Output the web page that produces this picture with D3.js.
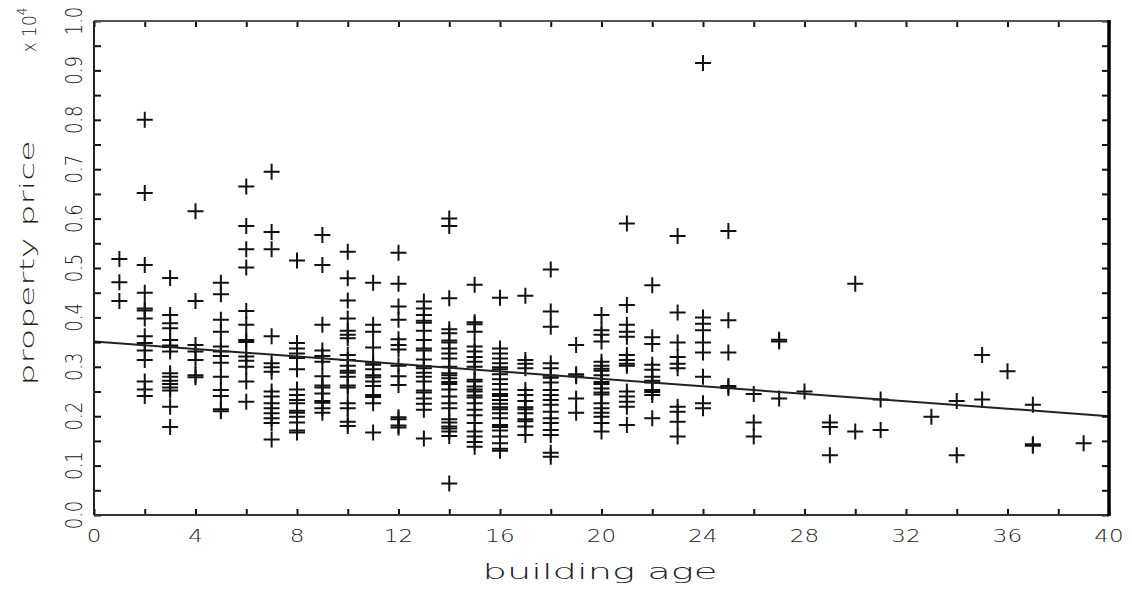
<!DOCTYPE html>
<html><head><meta charset="utf-8">
<script src="https://cdn.jsdelivr.net/npm/d3@7"></script>
<style>
html,body{margin:0;padding:0;background:#fff;}
svg{display:block;}
text{font-family:"DejaVu Sans ExtraLight","DejaVu Sans",sans-serif;font-weight:300;fill:#222;}
</style></head>
<body>
<svg id="chart" width="1132" height="592"></svg>
<script>
// ---- data (price in units of 10^4) ----
const ages = [1,2,3,4,5,6,7,8,9,10,11,12,13,14,15,16,17,18,19,20,21,22,23,24,25,26,27,28,29,30,31,33,34,35,36,37,39];
const prices = [
  [0.518,0.471,0.433],
  [0.80,0.652,0.506,0.450,0.418,0.414,0.398,0.362,0.348,0.333,0.314,0.270,0.254,0.241],
  [0.480,0.405,0.388,0.378,0.354,0.343,0.340,0.331,0.287,0.280,0.272,0.265,0.258,0.252,0.219,0.178],
  [0.615,0.433,0.344,0.331,0.314,0.283,0.279],
  [0.470,0.447,0.395,0.371,0.341,0.331,0.322,0.308,0.280,0.253,0.241,0.214,0.210],
  [0.665,0.585,0.538,0.501,0.413,0.385,0.354,0.350,0.321,0.312,0.300,0.270,0.229],
  [0.695,0.573,0.538,0.362,0.307,0.299,0.290,0.250,0.240,0.226,0.216,0.206,0.196,0.186,0.153],
  [0.515,0.348,0.337,0.327,0.318,0.295,0.254,0.243,0.233,0.226,0.211,0.207,0.199,0.187,0.171,0.167],
  [0.567,0.506,0.385,0.333,0.322,0.310,0.281,0.262,0.258,0.246,0.231,0.227,0.216,0.207],
  [0.533,0.479,0.434,0.398,0.373,0.365,0.358,0.324,0.314,0.302,0.292,0.288,0.280,0.262,0.258,0.226,0.216,0.189,0.180],
  [0.470,0.385,0.371,0.339,0.308,0.304,0.295,0.283,0.279,0.270,0.261,0.243,0.239,0.226,0.167],
  [0.531,0.468,0.422,0.395,0.356,0.344,0.335,0.302,0.281,0.263,0.198,0.194,0.181,0.177],
  [0.432,0.418,0.405,0.393,0.389,0.373,0.354,0.337,0.333,0.315,0.301,0.297,0.288,0.280,0.270,0.252,0.248,0.236,0.225,0.213,0.155],
  [0.600,0.585,0.439,0.376,0.368,0.353,0.349,0.337,0.327,0.317,0.300,0.287,0.283,0.277,0.269,0.265,0.254,0.240,0.226,0.216,0.194,0.187,0.179,0.175,0.169,0.160,0.064],
  [0.466,0.390,0.386,0.371,0.341,0.331,0.320,0.310,0.300,0.274,0.270,0.260,0.254,0.250,0.242,0.238,0.226,0.213,0.202,0.186,0.169,0.159,0.148,0.138],
  [0.440,0.337,0.327,0.317,0.307,0.299,0.295,0.285,0.275,0.265,0.254,0.245,0.241,0.233,0.225,0.218,0.214,0.206,0.196,0.182,0.178,0.171,0.159,0.145,0.134,0.130],
  [0.444,0.314,0.306,0.297,0.253,0.243,0.231,0.218,0.214,0.206,0.194,0.190,0.179,0.162],
  [0.497,0.412,0.381,0.307,0.297,0.282,0.278,0.268,0.253,0.243,0.233,0.223,0.209,0.196,0.186,0.172,0.162,0.126,0.118],
  [0.344,0.285,0.281,0.236,0.207],
  [0.405,0.374,0.365,0.351,0.310,0.302,0.296,0.292,0.283,0.269,0.265,0.256,0.248,0.244,0.226,0.216,0.207,0.199,0.186,0.169],
  [0.590,0.425,0.385,0.371,0.361,0.324,0.314,0.306,0.302,0.250,0.240,0.229,0.219,0.182],
  [0.465,0.360,0.346,0.304,0.294,0.280,0.272,0.268,0.253,0.249,0.243,0.196],
  [0.565,0.410,0.349,0.320,0.306,0.297,0.219,0.209,0.189,0.159],
  [0.915,0.400,0.387,0.374,0.349,0.329,0.280,0.226,0.216],
  [0.575,0.394,0.329,0.261,0.257],
  [0.245,0.187,0.159],
  [0.355,0.351,0.236],
  [0.250],
  [0.187,0.178,0.121],
  [0.468,0.169],
  [0.234,0.172],
  [0.199],
  [0.231,0.121],
  [0.324,0.234],
  [0.291],
  [0.223,0.143,0.140],
  [0.145]
];
const trendAge = [0, 40];
const trendPrice = [0.351, 0.200];
const xTickValues = [0,4,8,12,16,20,24,28,32,36,40];
const xMinorValues = [2,6,10,14,18,22,26,30,34,38];
const yTickValues = [0,0.1,0.2,0.3,0.4,0.5,0.6,0.7,0.8,0.9,1.0];
const yMinorValues = [0.05,0.15,0.25,0.35,0.45,0.55,0.65,0.75,0.85,0.95];
const xTitle = "building age";
const yTitle = "property price";

// ---- layout ----
const L = 94, R = 1109, T = 21, B = 515;
const x = d3.scaleLinear().domain([0,40]).range([L,R]);
const y = d3.scaleLinear().domain([0,1]).range([B,T]);
const svg = d3.select("#chart");
const SX = 1.28; // horizontal glyph stretch

// points
const pts = [];
ages.forEach((a,i)=>prices[i].forEach(p=>pts.push([a,p])));
svg.append("g").selectAll("path").data(pts).join("path")
  .attr("transform",d=>`translate(${x(d[0])},${y(d[1])})`)
  .attr("d","M-8,0H8M0,-8V8")
  .attr("stroke","#111").attr("stroke-width",2).attr("fill","none");

// trend line
svg.append("path")
  .attr("d", d3.line().x(d=>x(d[0])).y(d=>y(d[1]))(trendAge.map((a,i)=>[a,trendPrice[i]])))
  .attr("stroke","#222").attr("stroke-width",2).attr("fill","none");

// axes with inward ticks
const gB = svg.append("g").attr("transform",`translate(0,${B})`)
  .call(d3.axisBottom(x).tickValues(xTickValues.concat(xMinorValues)).tickSize(-6).tickFormat(""));
const gT = svg.append("g").attr("transform",`translate(0,${T})`)
  .call(d3.axisTop(x).tickValues(xTickValues.concat(xMinorValues)).tickSize(-6).tickFormat(""));
const gL = svg.append("g").attr("transform",`translate(${L},0)`)
  .call(d3.axisLeft(y).tickValues(yTickValues.concat(yMinorValues)).tickSize(-7).tickFormat(""));
const gR = svg.append("g").attr("transform",`translate(${R},0)`)
  .call(d3.axisRight(y).tickValues(yTickValues.concat(yMinorValues)).tickSize(-7).tickFormat(""));
[gB,gT,gL,gR].forEach(g=>{
  g.selectAll(".tick line").attr("stroke","#111").attr("stroke-width",2);
  g.select(".domain").remove();
});
svg.append("line").attr("x1",L).attr("x2",R).attr("y1",T).attr("y2",T).attr("stroke","#555").attr("stroke-width",2);
svg.append("line").attr("x1",L).attr("x2",R+1).attr("y1",B).attr("y2",B).attr("stroke","#333").attr("stroke-width",2);
svg.append("line").attr("x1",L).attr("x2",L).attr("y1",T).attr("y2",B).attr("stroke","#222").attr("stroke-width",2);
svg.append("line").attr("x1",R).attr("x2",R).attr("y1",T-1).attr("y2",B+1).attr("stroke","#000").attr("stroke-width",3.5);

// tick labels
svg.append("g").selectAll("text").data(xTickValues).join("text")
  .attr("transform",d=>`translate(${x(d)},542) scale(${SX},1)`)
  .attr("text-anchor","middle").attr("font-size",18).text(d=>d);
svg.append("g").selectAll("text").data(yTickValues).join("text")
  .attr("transform",d=>`translate(82,${y(d)}) scale(${SX},1) rotate(-90)`)
  .attr("text-anchor","middle").attr("font-size",18).text(d=>d.toFixed(1));

// titles
svg.append("text").attr("transform",`translate(600,579)`)
  .attr("text-anchor","middle").attr("font-size",22)
  .attr("textLength",235).attr("lengthAdjust","spacingAndGlyphs").text(xTitle);
svg.append("text").attr("transform",`translate(34,263) rotate(-90)`)
  .attr("text-anchor","middle").attr("font-size",20)
  .attr("textLength",245).attr("lengthAdjust","spacingAndGlyphs").text(yTitle);
const mult = svg.append("text").attr("transform",`translate(36,30) scale(1.15,1) rotate(-90)`)
  .attr("text-anchor","middle").attr("font-size",17);
mult.append("tspan").text("x 10");
mult.append("tspan").attr("dy",-8).attr("font-size",12).text("4");
</script>
</body></html>
